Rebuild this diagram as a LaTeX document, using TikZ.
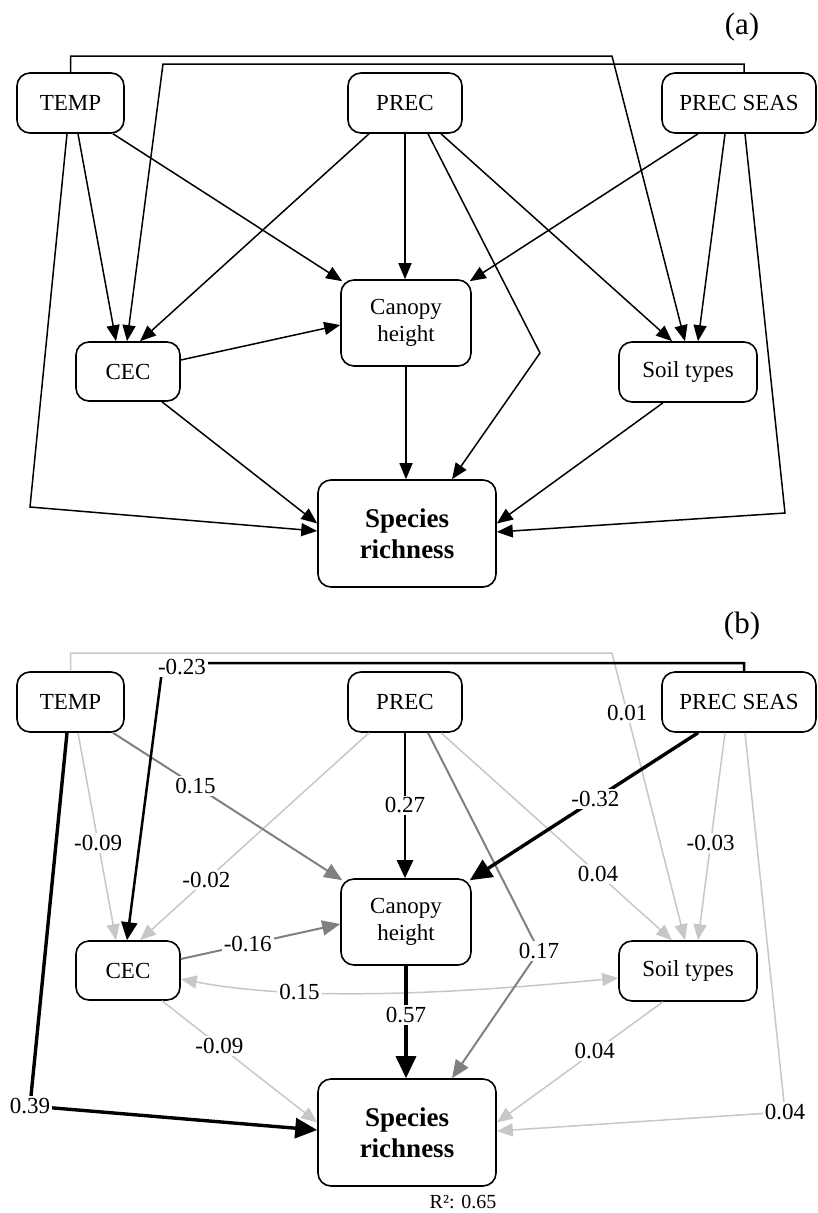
\documentclass[tikz,border=0pt]{standalone}
\usepackage{fontspec}
\setmainfont{Liberation Serif}
\usetikzlibrary{positioning,arrows.meta,calc}

\begin{document}
\begin{tikzpicture}[
  x=1pt, y=-1pt,
  font=\fontsize{23}{27}\selectfont,
  >={Triangle[length=16pt,width=13pt]},
  box/.style={draw, rounded corners=13pt, line width=1.6pt, align=center, inner sep=0pt},
  target/.style={box, font=\fontsize{27}{31}\selectfont\bfseries},
  link/.style={line width=1.5pt, ->},
  faint/.style={draw=black!22, line width=1.5pt, ->},
  medium/.style={draw=black!50, line width=2pt, >={Triangle[length=18pt,width=15pt]}, ->},
  strong/.style={line width=2.5pt, >={Triangle[length=18pt,width=16pt]}, ->},
  heavy/.style={line width=3.4pt, >={Triangle[length=22pt,width=20pt]}, ->},
  coef/.style={fill=white, inner sep=2pt},
  tag/.style={font=\fontsize{31}{35}\selectfont},
]
\useasboundingbox (0,0) rectangle (817,1213);

% ==================== PANEL (a) : hypothesised paths ====================
\node[tag] (tagA) at (742,27) {(a)};
\node[box, minimum width=107pt, minimum height=60pt] (tempA) at (70.5,103) {TEMP};
\node[box, minimum width=114pt, minimum height=60pt] (precA) at (405,103) {PREC};
\node[box, minimum width=154pt, minimum height=60pt] (seasA) at (739,103) {PREC SEAS};
\node[box, minimum width=130pt, minimum height=86pt] (canopyA) at (406,323) {Canopy\\height};
\node[box, minimum width=104pt, minimum height=59pt] (cecA) at (128,371.5) {CEC};
\node[box, minimum width=138pt, minimum height=60pt] (soilA) at (688,372) {Soil types};
\node[target, minimum width=178pt, minimum height=107pt] (richA) at (407,533.5) {Species\\richness};

\coordinate (tlA) at (30,507);
\coordinate (trA) at (785,513);
\coordinate (toA) at (612,56);
\coordinate (tiA) at (163,64);
\coordinate (bendA) at (540,353);

\draw[link] ([xshift=-3.5pt]tempA.south) -- (tlA) -- ([yshift=2.5pt]richA.west);
\draw[link] ([xshift=7.5pt]tempA.south) -- ([xshift=-12pt]cecA.north);
\draw[link] ([xshift=42.5pt]tempA.south) -- ([xshift=2pt,yshift=-2pt]canopyA.north west);
\draw[link] (precA.south) -- (precA.south |- canopyA.north);
\draw[link] ([xshift=-36pt]precA.south) -- ([xshift=12pt]cecA.north);
\draw[link] ([xshift=23pt]precA.south) -- (bendA) -- ([xshift=45pt]richA.north);
\draw[link] ([xshift=36pt]precA.south) -- ([xshift=-16pt]soilA.north);
\draw[link] (tempA.north) |- (toA) -- ([xshift=-3pt]soilA.north);
\draw[link] ([xshift=5pt]seasA.north) |- (tiA) -- ([xshift=-1pt]cecA.north);
\draw[link] ([xshift=-41pt]seasA.south) -- ([xshift=-2pt,yshift=-2pt]canopyA.north east);
\draw[link] ([xshift=-14pt]seasA.south) -- ([xshift=10pt]soilA.north);
\draw[link] ([xshift=6pt]seasA.south) -- (trA) -- ([yshift=1.5pt]richA.east);
\draw[link] ([yshift=11.5pt]cecA.east) -- ([yshift=-2pt]canopyA.west);
\draw[link] ([xshift=34pt]cecA.south) -- ([yshift=10pt]richA.west);
\draw[link] (canopyA.south) -- (canopyA.south |- richA.north);
\draw[link] ([xshift=-25pt]soilA.south) -- ([yshift=10pt]richA.east);

% ==================== PANEL (b) : fitted coefficients ====================
\node[tag] (tagB) at (742,626) {(b)};
\node[box, minimum width=107pt, minimum height=60pt] (tempB) at (70.5,702) {TEMP};
\node[box, minimum width=114pt, minimum height=60pt] (precB) at (405,702) {PREC};
\node[box, minimum width=154pt, minimum height=60pt] (seasB) at (739,702) {PREC SEAS};
\node[box, minimum width=130pt, minimum height=86pt] (canopyB) at (406,922) {Canopy\\height};
\node[box, minimum width=104pt, minimum height=59pt] (cecB) at (128,970.5) {CEC};
\node[box, minimum width=138pt, minimum height=60pt] (soilB) at (688,971) {Soil types};
\node[target, minimum width=178pt, minimum height=107pt] (richB) at (407,1132.5) {Species\\richness};
\node[font=\fontsize{20}{24}\selectfont] (fitB) at (463,1202) {R²: 0.65};

\coordinate (tlB) at (30,1106);
\coordinate (trB) at (785,1112);
\coordinate (toB) at (612,653);
\coordinate (tiB) at (163,663);
\coordinate (bendB) at (539,951);

% weak paths first
\draw[faint] (tempB.north) |- (toB) -- node[coef, pos=0.21]{0.01} ([xshift=-3pt]soilB.north);
\draw[faint] ([xshift=7.5pt]tempB.south) -- node[coef, pos=0.53]{-0.09} ([xshift=-12pt]cecB.north);
\draw[faint] ([xshift=-36pt]precB.south) -- node[coef, pos=0.71]{-0.02} ([xshift=12pt]cecB.north);
\draw[faint] ([xshift=36pt]precB.south) -- node[coef, pos=0.68]{0.04} ([xshift=-16pt]soilB.north);
\draw[faint] ([xshift=-14pt]seasB.south) -- node[coef, pos=0.53]{-0.03} ([xshift=10pt]soilB.north);
\draw[faint] ([xshift=6pt]seasB.south) -- (trB) node[coef]{0.04} -- ([yshift=1.5pt]richB.east);
\draw[faint, <->] ([yshift=-8.5pt]cecB.east) .. controls (290,1000) and (430,996) ..
  node[coef, pos=0.33]{0.15} ([yshift=-7pt]soilB.west);
\draw[faint] ([xshift=34pt]cecB.south) -- node[coef, pos=0.37]{-0.09} ([yshift=10pt]richB.west);
\draw[faint] ([xshift=-25pt]soilB.south) -- node[coef, pos=0.41]{0.04} ([yshift=10pt]richB.east);

% moderate paths
\draw[medium] ([xshift=42.5pt]tempB.south) -- node[coef, pos=0.36]{0.15} ([xshift=2pt,yshift=-2pt]canopyB.north west);
\draw[medium] ([xshift=23pt]precB.south) -- (bendB) node[coef]{0.17} -- ([xshift=45pt]richB.north);
\draw[medium] ([yshift=11.5pt]cecB.east) -- node[coef, pos=0.42]{-0.16} ([yshift=-2pt]canopyB.west);

% strong paths
\draw[strong] (precB.south) -- node[coef]{0.27} (precB.south |- canopyB.north);
\draw[strong] ([xshift=5pt]seasB.north) |- (tiB) node[coef, xshift=19pt, yshift=-4pt]{-0.23} -- ([xshift=-1pt]cecB.north);
\draw[heavy] ([xshift=-3.5pt]tempB.south) -- (tlB) node[coef]{0.39} -- ([yshift=2.5pt]richB.west);
\draw[heavy] ([xshift=-41pt]seasB.south) -- node[coef, pos=0.45]{-0.32} ([xshift=-2pt,yshift=-2pt]canopyB.north east);
\draw[heavy] (canopyB.south) -- node[coef, pos=0.44]{0.57} (canopyB.south |- richB.north);

\end{tikzpicture}
\end{document}
